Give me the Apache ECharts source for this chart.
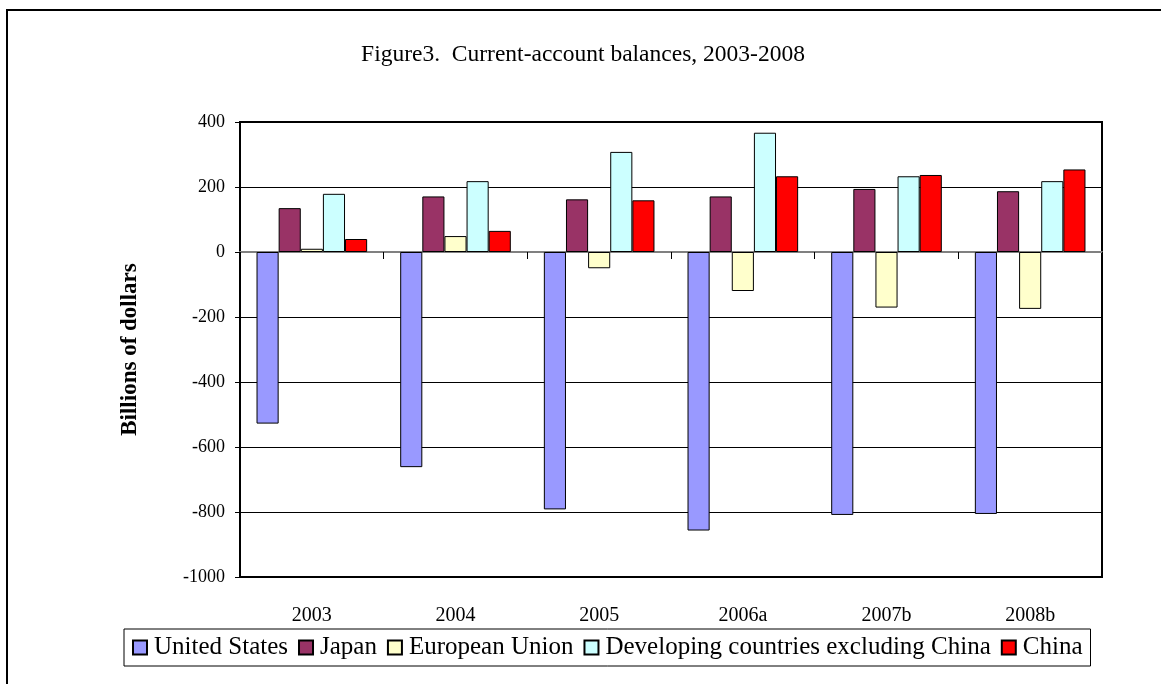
<!DOCTYPE html>
<html>
<head>
<meta charset="utf-8">
<title>Current-account balances, 2003-2008</title>
<script src="https://cdn.jsdelivr.net/npm/echarts@6/dist/echarts.min.js"></script>
<style>
  html, body { margin: 0; padding: 0; background: #fff; }
  #chart { width: 1161px; height: 684px; }
</style>
</head>
<body>
<div id="chart"></div>
<script>
// Current-account balances, billions of dollars
const years = ['2003', '2004', '2005', '2006a', '2007b', '2008b'];
const unitedStates = [-528, -662, -792, -857, -809, -806];
const japan = [135, 171, 162, 171, 194, 187];
const europeanUnion = [10, 49, -50, -120, -171, -175];
const developingExChina = [179, 218, 308, 367, 233, 218];
const china = [40, 65, 159, 233, 237, 254];

const FONT = '"Liberation Serif", "Times New Roman", serif';

function barSeries(name, data, color) {
  return {
    name: name,
    type: 'bar',
    data: data,
    xAxisIndex: 0,
    barGap: '0%',
    barCategoryGap: '23%',
    itemStyle: { color: color, borderColor: '#000', borderWidth: 1 },
    emphasis: { disabled: true }
  };
}

const chart = echarts.init(document.getElementById('chart'), null, { renderer: 'canvas' });

chart.setOption({
  animation: false,
  backgroundColor: '#fff',
  textStyle: { fontFamily: FONT, color: '#000' },
  graphic: [{
    type: 'rect',
    shape: { x: 7, y: 10, width: 1200, height: 720 },
    style: { fill: 'none', stroke: '#000', lineWidth: 2 },
    silent: true
  }],
  title: {
    text: 'Figure3.  Current-account balances, 2003-2008',
    left: 578,
    textAlign: 'center',
    top: 38,
    textStyle: { fontFamily: FONT, fontSize: 23.5, fontWeight: 'normal', color: '#000' }
  },
  grid: {
    left: 240, top: 122, right: 59, bottom: 107,
    show: true, borderColor: '#000', borderWidth: 2, backgroundColor: 'transparent'
  },
  legend: {
    left: 124, top: 629,
    padding: [6, 8, 6, 8],
    itemWidth: 14, itemHeight: 14, itemGap: 10,
    borderColor: '#000', borderWidth: 1,
    icon: 'rect',
    textStyle: { fontFamily: FONT, fontSize: 25, color: '#000', padding: [0, 0, 0, 2] },
    data: ['United States', 'Japan', 'European Union', 'Developing countries excluding China', 'China']
  },
  xAxis: [{
    type: 'category',
    data: years,
    position: 'bottom',
    axisLine: { onZero: true, lineStyle: { color: '#808080', width: 2 } },
    axisTick: { show: true, length: 7, lineStyle: { color: '#000', width: 1 } },
    axisLabel: { show: false },
    splitLine: { show: false }
  }, {
    type: 'category',
    data: years,
    position: 'bottom',
    axisLine: { show: false, onZero: false },
    axisTick: { show: false },
    axisLabel: { show: true, margin: 29, fontFamily: FONT, fontSize: 20, color: '#000' }
  }],
  yAxis: {
    type: 'value',
    min: -1000, max: 400, interval: 200,
    name: 'Billions of dollars',
    nameLocation: 'middle',
    nameGap: 98,
    nameTextStyle: { fontFamily: FONT, fontSize: 23, fontWeight: 'bold', color: '#000' },
    axisLine: { show: true, lineStyle: { color: '#000', width: 2 } },
    axisTick: { show: true, length: 5, lineStyle: { color: '#000', width: 1 } },
    axisLabel: {
      margin: 15, fontFamily: FONT, fontSize: 18, color: '#000',
      formatter: function (v) { return String(v); }
    },
    splitLine: { show: true, lineStyle: { color: '#000', width: 1 } }
  },
  series: [
    barSeries('United States', unitedStates, '#9999FF'),
    barSeries('Japan', japan, '#993366'),
    barSeries('European Union', europeanUnion, '#FFFFCC'),
    barSeries('Developing countries excluding China', developingExChina, '#CCFFFF'),
    barSeries('China', china, '#FF0000')
  ]
});
</script>
</body>
</html>
